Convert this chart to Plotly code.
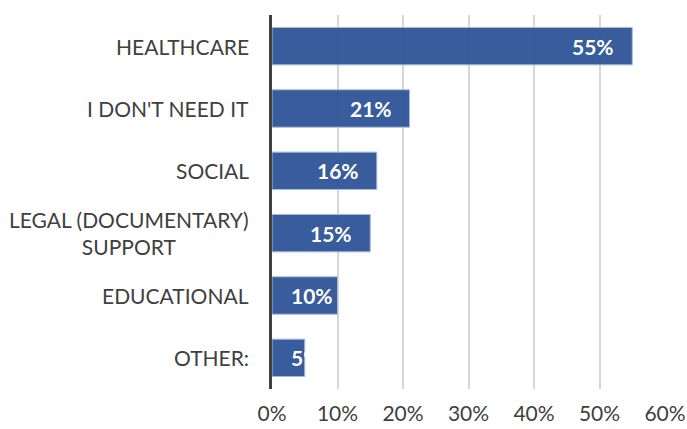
import plotly.graph_objects as go

# Survey answers: which kind of support is needed
categories = [
    "HEALTHCARE",
    "I DON'T NEED IT",
    "SOCIAL",
    "LEGAL (DOCUMENTARY)<br>SUPPORT",
    "EDUCATIONAL",
    "OTHER:",
]
shares = [55, 21, 16, 15, 10, 5]
x_ticks = [0, 10, 20, 30, 40, 50, 60]

FONT = "Lato"
TEXT_COLOR = "#404040"
W, H = 687, 429
MARGIN = dict(l=272, r=22, t=15, b=40)

fig = go.Figure(
    go.Bar(
        y=categories,
        x=shares,
        orientation="h",
        width=0.6,
        marker=dict(
            color="rgba(44,82,150,0.94)",
            line=dict(color="#A7BADD", width=1),
        ),
        hoverinfo="skip",
    )
)

# Value labels inside the bar ends; a label too wide for its bar starts
# near the bar's base instead and runs off the end (white on white).
x_max = x_ticks[-1]
px_per_unit = (W - MARGIN["l"] - MARGIN["r"]) / x_max
label_w = 44
annotations = []
for cat, v in zip(categories, shares):
    bar_px = v * px_per_unit
    if bar_px >= label_w + 30:
        pos = dict(x=v, xanchor="right", xshift=-16)
    else:
        pos = dict(x=0, xanchor="left", xshift=17)
    annotations.append(
        dict(
            xref="x", yref="y", y=cat, showarrow=False, yanchor="middle",
            text=f"<b>{v}%</b>",
            font=dict(family=FONT, size=21, color="white"),
            **pos,
        )
    )

# Category labels, right-aligned next to the axis, multi-line ones centred
for cat in categories:
    annotations.append(
        dict(
            xref="paper", x=0, xshift=-21, xanchor="right",
            yref="y", y=cat, yanchor="middle",
            text=cat, align="center", showarrow=False,
            font=dict(family=FONT, size=21, color=TEXT_COLOR),
        )
    )

fig.update_layout(
    width=W,
    height=H,
    margin=MARGIN,
    paper_bgcolor="white",
    plot_bgcolor="white",
    showlegend=False,
    font=dict(family=FONT, size=21, color=TEXT_COLOR),
    annotations=annotations,
    xaxis=dict(
        range=[0, x_max],
        tickvals=x_ticks,
        ticktext=[f"{t}%" for t in x_ticks],
        showgrid=True,
        gridcolor="#D6D6D6",
        gridwidth=1.5,
        zeroline=False,
        showline=False,
        ticks="",
        ticklabelstandoff=10,
        automargin=False,
        tickfont=dict(family=FONT, size=21, color=TEXT_COLOR),
        fixedrange=True,
    ),
    yaxis=dict(
        categoryorder="array",
        categoryarray=categories[::-1],
        showticklabels=False,
        showgrid=False,
        zeroline=False,
        showline=True,
        linecolor="#404040",
        linewidth=3,
        ticks="",
        automargin=False,
        fixedrange=True,
    ),
)

fig.write_html("out.html")
